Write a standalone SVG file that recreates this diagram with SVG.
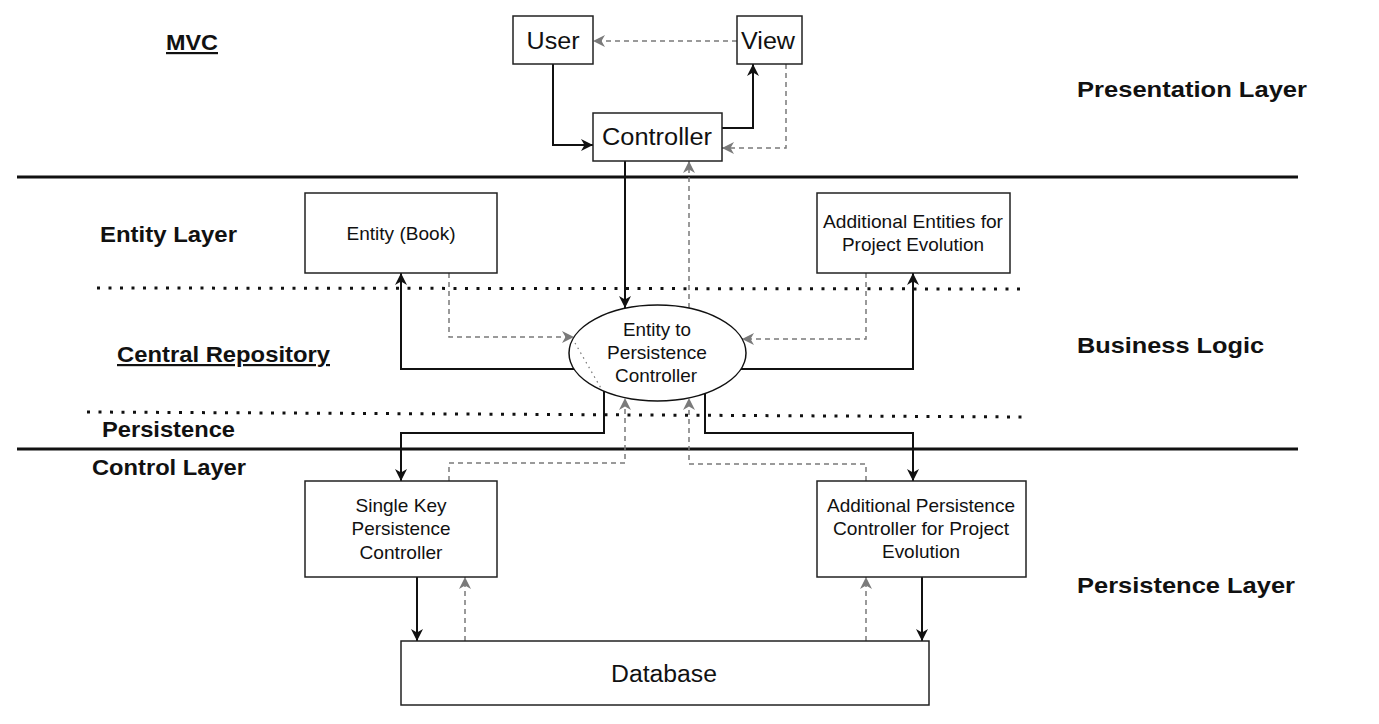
<svg xmlns="http://www.w3.org/2000/svg" width="1379" height="724" viewBox="0 0 1379 724">
<style>
text{font-family:"Liberation Sans",Arial,sans-serif;fill:#111}
.lbl{font-weight:bold;font-size:22px}
.u{text-decoration:underline}
.bx{fill:#fff;stroke:#222;stroke-width:1.5}
.n{font-size:19px;text-anchor:middle}
.big{font-size:23px;text-anchor:middle}
.sol{fill:none;stroke:#111;stroke-width:2;marker-end:url(#ab)}
.das{fill:none;stroke:#7a7a7a;stroke-width:1.5;stroke-dasharray:5 4;marker-end:url(#ag)}
.sep{stroke:#111;stroke-width:3}
.dot{stroke:#111;stroke-width:3;stroke-dasharray:3 8.5}
</style>
<defs>
<marker id="ab" viewBox="0 0 12 12" refX="12" refY="6" markerWidth="12" markerHeight="12" markerUnits="userSpaceOnUse" orient="auto"><path d="M0,0 L12,6 L0,12 L3.5,6 z" fill="#111"/></marker>
<marker id="ag" viewBox="0 0 12 12" refX="12" refY="6" markerWidth="12" markerHeight="12" markerUnits="userSpaceOnUse" orient="auto"><path d="M0,0 L12,6 L0,12 L3.5,6 z" fill="#7a7a7a"/></marker>
</defs>
<rect width="1379" height="724" fill="#fff"/>
<g id="separators">
<line class="sep" x1="17" y1="177" x2="1298" y2="177"/>
<line class="sep" x1="17" y1="449" x2="1298" y2="449"/>
<line class="dot" x1="97" y1="288" x2="1025" y2="289"/>
<line class="dot" x1="87" y1="412" x2="1025" y2="417"/>
</g>
<g id="labels">
<text class="lbl u" x="166" y="50" textLength="52" lengthAdjust="spacingAndGlyphs">MVC</text>
<text class="lbl" x="100" y="242" textLength="137" lengthAdjust="spacingAndGlyphs">Entity Layer</text>
<text class="lbl u" x="117" y="362" textLength="213" lengthAdjust="spacingAndGlyphs">Central Repository</text>
<text class="lbl" x="102" y="437" textLength="133" lengthAdjust="spacingAndGlyphs">Persistence</text>
<text class="lbl" x="92" y="475" textLength="154" lengthAdjust="spacingAndGlyphs">Control Layer</text>
<text class="lbl" x="1077" y="97" textLength="230" lengthAdjust="spacingAndGlyphs">Presentation Layer</text>
<text class="lbl" x="1077" y="353" textLength="187" lengthAdjust="spacingAndGlyphs">Business Logic</text>
<text class="lbl" x="1077" y="593" textLength="218" lengthAdjust="spacingAndGlyphs">Persistence Layer</text>
</g>
<g id="connectors">
<path class="sol" d="M553,64 V145 H593"/>
<path class="sol" d="M722,128 H753 V64"/>
<path class="das" d="M786,64 V148 H722"/>
<path class="das" d="M737,41 H593"/>
<path class="sol" d="M625,161 V308"/>
<path class="das" d="M689,308 V161"/>
<path class="sol" d="M574,369 H401 V273"/>
<path class="das" d="M449,273 V337 H574"/>
<path class="sol" d="M741,369 H913 V273"/>
<path class="das" d="M866,273 V339 H742"/>
<path class="sol" d="M604,391 V433 H401 V481"/>
<path class="sol" d="M705,393 V433 H913 V481"/>
<path class="das" d="M449,481 V463 H625 V398"/>
<path class="das" d="M866,481 V464 H689 V398"/>
<path class="sol" d="M417,577 V641"/>
<path class="das" d="M465,641 V577"/>
<path class="sol" d="M922,577 V641"/>
<path class="das" d="M866,641 V577"/>
</g>
<g id="user"><rect class="bx" x="513" y="16" width="80" height="48"/><text class="big" x="553" y="49" textLength="53" lengthAdjust="spacingAndGlyphs">User</text></g>
<g id="view"><rect class="bx" x="737" y="16" width="65" height="48"/><text class="big" x="768" y="49" textLength="54" lengthAdjust="spacingAndGlyphs">View</text></g>
<g id="controller"><rect class="bx" x="593" y="113" width="129" height="48"/><text class="big" x="657" y="145" textLength="110" lengthAdjust="spacingAndGlyphs">Controller</text></g>
<g id="entity-book"><rect class="bx" x="305" y="193" width="192" height="80"/><text class="n" x="401" y="240" textLength="109" lengthAdjust="spacingAndGlyphs">Entity (Book)</text></g>
<g id="additional-entities"><rect class="bx" x="817" y="193" width="193" height="80"/><text class="n" x="913" y="228" textLength="180" lengthAdjust="spacingAndGlyphs">Additional Entities for</text><text class="n" x="913" y="251" textLength="142" lengthAdjust="spacingAndGlyphs">Project Evolution</text></g>
<g id="entity-to-persistence">
<ellipse cx="657.5" cy="353" rx="88.5" ry="48" fill="#fff" stroke="#111" stroke-width="1.5"/>
<line x1="575" y1="343" x2="602" y2="390" stroke="#777" stroke-width="1.2" stroke-dasharray="1.5 4"/>
<text class="n" x="657" y="336" textLength="68" lengthAdjust="spacingAndGlyphs">Entity to</text>
<text class="n" x="657" y="359" textLength="100" lengthAdjust="spacingAndGlyphs">Persistence</text>
<text class="n" x="656" y="382" textLength="82" lengthAdjust="spacingAndGlyphs">Controller</text>
</g>
<g id="single-key"><rect class="bx" x="305" y="481" width="192" height="96"/>
<text class="n" x="401" y="512" textLength="91" lengthAdjust="spacingAndGlyphs">Single Key</text>
<text class="n" x="401" y="535" textLength="99" lengthAdjust="spacingAndGlyphs">Persistence</text>
<text class="n" x="401" y="559" textLength="83" lengthAdjust="spacingAndGlyphs">Controller</text></g>
<g id="additional-persistence"><rect class="bx" x="817" y="481" width="209" height="96"/>
<text class="n" x="921" y="512" textLength="188" lengthAdjust="spacingAndGlyphs">Additional Persistence</text>
<text class="n" x="921" y="535" textLength="176" lengthAdjust="spacingAndGlyphs">Controller for Project</text>
<text class="n" x="921" y="558" textLength="78" lengthAdjust="spacingAndGlyphs">Evolution</text></g>
<g id="database"><rect class="bx" x="401" y="641" width="528" height="64"/><text class="big" x="664" y="682" textLength="106" lengthAdjust="spacingAndGlyphs">Database</text></g>
</svg>
